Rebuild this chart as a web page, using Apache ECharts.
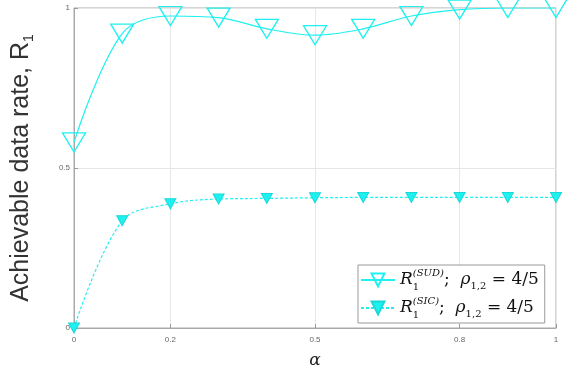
<!DOCTYPE html>
<html><head><meta charset="utf-8">
<script src="https://cdn.jsdelivr.net/npm/echarts@6/dist/echarts.min.js"></script>
<style>html,body{margin:0;padding:0;background:#fff}#c{width:585px;height:374px}</style>
</head><body><div id="c"></div>
<script>
const alpha = [0, 0.1, 0.2, 0.3, 0.4, 0.5, 0.6, 0.7, 0.8, 0.9, 1.0];
const rSUD = [0.58, 0.92, 0.975, 0.97, 0.935, 0.915, 0.935, 0.975, 0.995, 1.0, 1.0];
const rSIC = [0.0, 0.335, 0.388, 0.403, 0.405, 0.407, 0.408, 0.408, 0.408, 0.408, 0.408];
const xTicks = [0, 0.2, 0.5, 0.8, 1];
const yTicks = [0, 0.5, 1];
const nameSUD = 'SUD', nameSIC = 'SIC';

const cyan = '#1ff0f0';
const chart = echarts.init(document.getElementById('c'), null, {renderer: 'canvas'});
const richLegend = {
  R: {fontFamily: 'DejaVu Serif', fontStyle: 'italic', fontSize: 17, color: '#111', lineHeight: 28, verticalAlign: 'middle'},
  sub: {fontFamily: 'DejaVu Serif', fontSize: 10, color: '#111', lineHeight: 28, verticalAlign: 'bottom', padding: [0, 0, 2, 0], width: 0},
  sub2: {fontFamily: 'DejaVu Serif', fontSize: 10, color: '#111', lineHeight: 28, verticalAlign: 'bottom', padding: [0, 0, 3, 0]},
  sup: {fontFamily: 'DejaVu Serif', fontStyle: 'italic', fontSize: 10, color: '#111', lineHeight: 28, verticalAlign: 'top', padding: [2, 0, 0, 0]},
  t: {fontFamily: 'DejaVu Serif', fontSize: 17, color: '#111', lineHeight: 28, verticalAlign: 'middle'},
  rho: {fontFamily: 'DejaVu Serif', fontStyle: 'italic', fontSize: 17, color: '#111', lineHeight: 28, verticalAlign: 'middle'}
};
function legendText(tag) {
  return '{R|R}{sub|1}{sup|(' + tag + ')}{t|;  }{rho|ρ}{sub2|1,2}{t| = 4/5}';
}
chart.setOption({
  animation: false,
  backgroundColor: '#fff',
  grid: {left: 74, right: 29, top: 8, bottom: 44, show: true, borderColor: '#aaa', borderWidth: 1},
  xAxis: {
    type: 'value', min: 0, max: 1,
    name: 'α', nameLocation: 'middle', nameGap: 24,
    nameTextStyle: {fontFamily: 'DejaVu Serif', fontStyle: 'italic', fontSize: 17, color: '#222'},
    axisLine: {lineStyle: {color: '#aaa'}},
    axisTick: {inside: true, length: 4, lineStyle: {color: '#999'}, customValues: xTicks},
    axisLabel: {customValues: xTicks, fontSize: 8, color: '#666', margin: 8, fontFamily: 'Liberation Sans', formatter: v => String(v)},
    splitLine: {show: true, lineStyle: {color: '#e6e6e6', width: 1}}
  },
  yAxis: {
    type: 'value', min: 0, max: 1, interval: 0.5,
    name: '{a|Achievable data rate, R}{s|1}', nameLocation: 'middle', nameGap: 38,
    nameTextStyle: {rich: {
      a: {fontFamily: 'Liberation Sans', fontSize: 25, color: '#333', lineHeight: 30, verticalAlign: 'middle'},
      s: {fontFamily: 'Liberation Sans', fontSize: 14, color: '#333', lineHeight: 30, verticalAlign: 'bottom'}
    }},
    axisLine: {show: true, lineStyle: {color: '#aaa'}},
    axisTick: {show: true, inside: true, length: 4, lineStyle: {color: '#999'}},
    axisLabel: {fontSize: 8, color: '#666', margin: 4, fontFamily: 'Liberation Sans', formatter: v => String(v)},
    splitLine: {show: true, lineStyle: {color: '#e6e6e6', width: 1}}
  },
  legend: {
    orient: 'vertical', left: 358, top: 265,
    backgroundColor: '#fff', borderColor: '#999', borderWidth: 1,
    padding: [1, 6, 1, 2], itemGap: 0, itemWidth: 34, itemHeight: 16,
    data: [nameSUD, nameSIC],
    formatter: name => legendText(name),
    textStyle: {rich: richLegend}
  },
  series: [
    {
      name: nameSUD, type: 'line', smooth: 0.35,
      data: alpha.map((a, i) => [a, rSUD[i]]),
      symbol: 'triangle', symbolRotate: 180, symbolSize: [23, 19],
      lineStyle: {color: cyan, width: 1.2},
      itemStyle: {color: 'rgba(255,255,255,0)', borderColor: cyan, borderWidth: 1.3},
      z: 3
    },
    {
      name: nameSIC, type: 'line', smooth: 0.35,
      data: alpha.map((a, i) => [a, rSIC[i]]),
      symbol: 'triangle', symbolRotate: 180, symbolSize: [11, 10],
      lineStyle: {color: cyan, width: 1.2, type: [3, 2]},
      itemStyle: {color: cyan, borderColor: '#19d8d8', borderWidth: 1},
      z: 3
    }
  ]
});
</script></body></html>
